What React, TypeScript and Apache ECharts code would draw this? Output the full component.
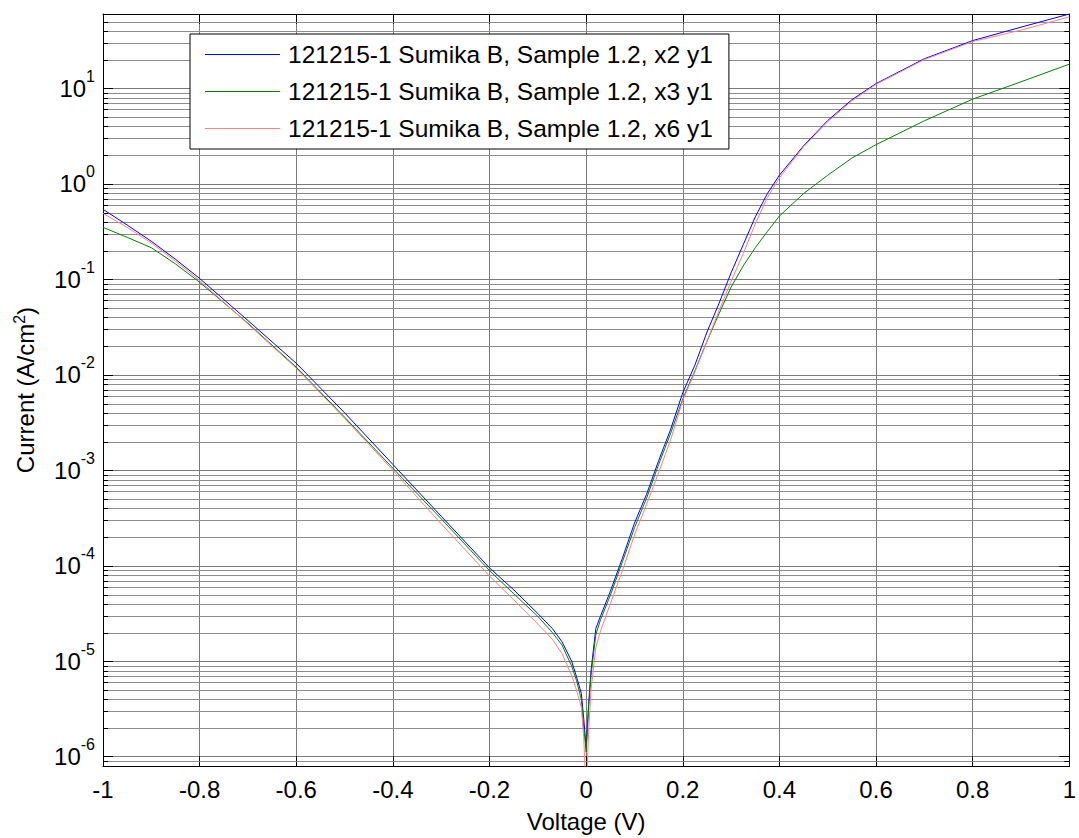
import React, { useEffect, useRef } from 'react';
import * as echarts from 'echarts';

// ---- data ----
const voltage = [
  -1, -0.95, -0.9, -0.85, -0.8,
  -0.7, -0.6, -0.5, -0.4, -0.3,
  -0.2, -0.15, -0.1, -0.07, -0.05,
  -0.03, -0.02, -0.01, -0.005, 0,
  0.005, 0.01, 0.02, 0.03, 0.05,
  0.075, 0.1, 0.125, 0.15, 0.175,
  0.2, 0.225, 0.25, 0.275, 0.3,
  0.325, 0.35, 0.375, 0.4, 0.45,
  0.5, 0.55, 0.6, 0.7, 0.8,
  0.9, 1.0,
];

const currentX2Y1 = [
  0.54, 0.37, 0.25, 0.162, 0.102,
  0.037, 0.0132, 0.004, 1.15e-3, 3.3e-4,
  9.5e-5, 5.6e-5, 3.16e-5, 2.2e-5, 1.6e-5,
  1.0e-5, 6.9e-6, 4.6e-6, 2.5e-6, 1.25e-6,
  3.5e-6, 7.9e-6, 2.2e-5, 3.0e-5, 5.4e-5,
  1.2e-4, 2.8e-4, 5.6e-4, 1.26e-3, 2.7e-3,
  6.5e-3, 0.0126, 0.028, 0.056, 0.117,
  0.23, 0.45, 0.79, 1.23, 2.5,
  4.6, 7.6, 11.2, 20.4, 31.6,
  43.7, 60,
];

const currentX3Y1 = [
  0.35, 0.275, 0.214, 0.145, 0.093,
  0.0347, 0.012, 3.6e-3, 1.05e-3, 3.1e-4,
  8.9e-5, 5.1e-5, 2.95e-5, 2.0e-5, 1.48e-5,
  8.9e-6, 6.3e-6, 4.0e-6, 2.0e-6, 1.12e-6,
  3.2e-6, 7.1e-6, 1.9e-5, 2.75e-5, 4.9e-5,
  1.1e-4, 2.5e-4, 5.1e-4, 1.15e-3, 2.45e-3,
  5.6e-3, 0.011, 0.0224, 0.0437, 0.083,
  0.138, 0.214, 0.316, 0.46, 0.79,
  1.23, 1.86, 2.57, 4.57, 7.7,
  11.7, 17.9,
];

const currentX6Y1 = [
  0.49, 0.35, 0.24, 0.155, 0.097,
  0.034, 0.0117, 3.5e-3, 1.0e-3, 2.75e-4,
  7.8e-5, 4.4e-5, 2.45e-5, 1.7e-5, 1.2e-5,
  7.1e-6, 5.0e-6, 3.3e-6, 1.6e-6, 4e-7,
  1.8e-6, 5.0e-6, 1.4e-5, 2.1e-5, 4.0e-5,
  8.9e-5, 2.1e-4, 4.4e-4, 9.5e-4, 2.1e-3,
  5.4e-3, 0.0107, 0.0224, 0.047, 0.095,
  0.186, 0.38, 0.72, 1.15, 2.45,
  4.47, 7.4, 11.0, 20, 30.9,
  40.7, 56,
];

const seriesNames = [
  '121215-1 Sumika B, Sample 1.2, x2 y1',
  '121215-1 Sumika B, Sample 1.2, x3 y1',
  '121215-1 Sumika B, Sample 1.2, x6 y1',
];
const seriesColors = ['#0000ff', '#008000', '#ff8080'];
const seriesValues = [currentX2Y1, currentX3Y1, currentX6Y1];

const xMin = -1;
const xMax = 1;
const xStep = 0.2;
const yMin = 8e-7;
const yMax = 60;
const minorMultipliers = [2, 3, 4, 5, 6, 7, 8, 9];
const minorDecades = [-7, -6, -5, -4, -3, -2, -1, 0, 1];

const xTitle = 'Voltage (V)';
const yTitle = 'Current (A/cm{s|2})';

const FONT = '"Liberation Sans", Arial, sans-serif';
const FS = 24;
const FS_LEGEND = 24.5;
const FS_SUP = 16;

export default function App() {
  const ref = useRef<HTMLDivElement>(null);

  useEffect(() => {
    if (!ref.current) return;
    const chart = echarts.init(ref.current, undefined, { renderer: 'svg' });

    const minorValues: number[] = [];
    minorDecades.forEach((d) =>
      minorMultipliers.forEach((m) => {
        const v = m * Math.pow(10, d);
        if (v > yMin * 1.0001 && v < yMax * 0.9999) minorValues.push(v);
      })
    );

    const yLabelFormatter = (v: number) => {
      const l = Math.log10(v);
      const e = Math.round(l);
      if (Math.abs(l - e) > 1e-6) return '';
      return `{b|10}{s|${e}}`;
    };

    const lineSeries = seriesNames.map((name, k) => ({
      name,
      type: 'line',
      xAxisIndex: 0,
      yAxisIndex: 0,
      data: voltage.map((v, i) => [v, seriesValues[k][i]]),
      showSymbol: false,
      symbol: 'none',
      lineStyle: { color: seriesColors[k], width: 1 },
      itemStyle: { color: seriesColors[k] },
      z: 3,
      clip: true,
    }));

    const option: any = {
      animation: false,
      backgroundColor: '#ffffff',
      textStyle: { fontFamily: FONT },
      grid: { left: 103, right: 8, top: 14, bottom: 72, containLabel: false },
      legend: {
        data: seriesNames,
        orient: 'vertical',
        left: 190,
        top: 34,
        padding: [8, 16, 8, 15],
        itemWidth: 75,
        itemHeight: 1,
        itemGap: 12,
        icon: 'rect',
        backgroundColor: '#ffffff',
        borderColor: '#000000',
        borderWidth: 1,
        borderRadius: 0,
        textStyle: {
          fontFamily: FONT,
          fontSize: FS_LEGEND,
          lineHeight: FS,
          color: '#000000',
          padding: [0, 0, 0, 3],
        },
        z: 10,
      },
      xAxis: [
        {
          type: 'value',
          position: 'bottom',
          min: xMin,
          max: xMax,
          interval: xStep,
          name: xTitle,
          nameLocation: 'middle',
          nameGap: 43,
          nameTextStyle: { fontFamily: FONT, fontSize: FS, color: '#000' },
          axisLine: { show: true, onZero: false, lineStyle: { color: '#000', width: 1 } },
          axisTick: { show: true, inside: true, length: 10, lineStyle: { color: '#000' } },
          axisLabel: { fontFamily: FONT, fontSize: FS, color: '#000', margin: 11 },
          splitLine: { show: true, lineStyle: { color: '#7a7a7a', width: 1 } },
        },
        {
          type: 'value',
          position: 'top',
          min: xMin,
          max: xMax,
          interval: xStep,
          axisLine: { show: true, onZero: false, lineStyle: { color: '#000', width: 1 } },
          axisTick: { show: true, inside: true, length: 10, lineStyle: { color: '#000' } },
          axisLabel: { show: false },
          splitLine: { show: false },
        },
      ],
      yAxis: [
        {
          type: 'log',
          logBase: 10,
          position: 'left',
          min: yMin,
          max: yMax,
          name: yTitle,
          nameLocation: 'middle',
          nameGap: 64,
          nameTextStyle: {
            fontFamily: FONT,
            fontSize: FS,
            color: '#000',
            rich: {
              s: { fontFamily: FONT, fontSize: FS_SUP, color: '#000', padding: [0, 0, 12, 0] },
            },
          },
          axisLine: { show: true, onZero: false, lineStyle: { color: '#000', width: 1 } },
          axisTick: { show: true, inside: true, length: 10, lineStyle: { color: '#000' } },
          axisLabel: {
            margin: 8,
            formatter: yLabelFormatter,
            rich: {
              b: { fontFamily: FONT, fontSize: FS, color: '#000', lineHeight: FS },
              s: { fontFamily: FONT, fontSize: FS_SUP, color: '#000', lineHeight: FS_SUP, padding: [0, 0, 24, 0] },
            },
          },
          splitLine: { show: true, lineStyle: { color: '#7a7a7a', width: 1 } },
        },
        {
          type: 'log',
          logBase: 10,
          position: 'right',
          min: yMin,
          max: yMax,
          axisLine: { show: true, onZero: false, lineStyle: { color: '#000', width: 1 } },
          axisTick: { show: true, inside: true, length: 10, lineStyle: { color: '#000' } },
          axisLabel: { show: false },
          splitLine: { show: false },
        },
      ],
      series: [
        {
          type: 'custom',
          name: 'minor grid',
          silent: true,
          xAxisIndex: 0,
          yAxisIndex: 0,
          z: 1,
          clip: false,
          data: minorValues.map((v) => [0, v]),
          encode: { x: 0, y: 1 },
          renderItem: (_params: any, api: any) => {
            const v = api.value(1);
            const a = api.coord([xMin, v]);
            const b = api.coord([xMax, v]);
            const y = Math.round(a[1]) + 0.5;
            return {
              type: 'group',
              children: [
                { type: 'line', shape: { x1: a[0], y1: y, x2: b[0], y2: y }, style: { stroke: '#8c8c8c', lineWidth: 1 } },
                { type: 'line', shape: { x1: a[0], y1: y, x2: a[0] + 5, y2: y }, style: { stroke: '#000', lineWidth: 1 } },
                { type: 'line', shape: { x1: b[0] - 5, y1: y, x2: b[0], y2: y }, style: { stroke: '#000', lineWidth: 1 } },
              ],
            };
          },
        },
        ...lineSeries,
      ],
    };

    chart.setOption(option);
    return () => chart.dispose();
  }, []);

  return (
    <div
      ref={ref}
      style={{ position: 'absolute', left: 0, top: 0, width: 1079, height: 838, background: '#fff' }}
    />
  );
}
